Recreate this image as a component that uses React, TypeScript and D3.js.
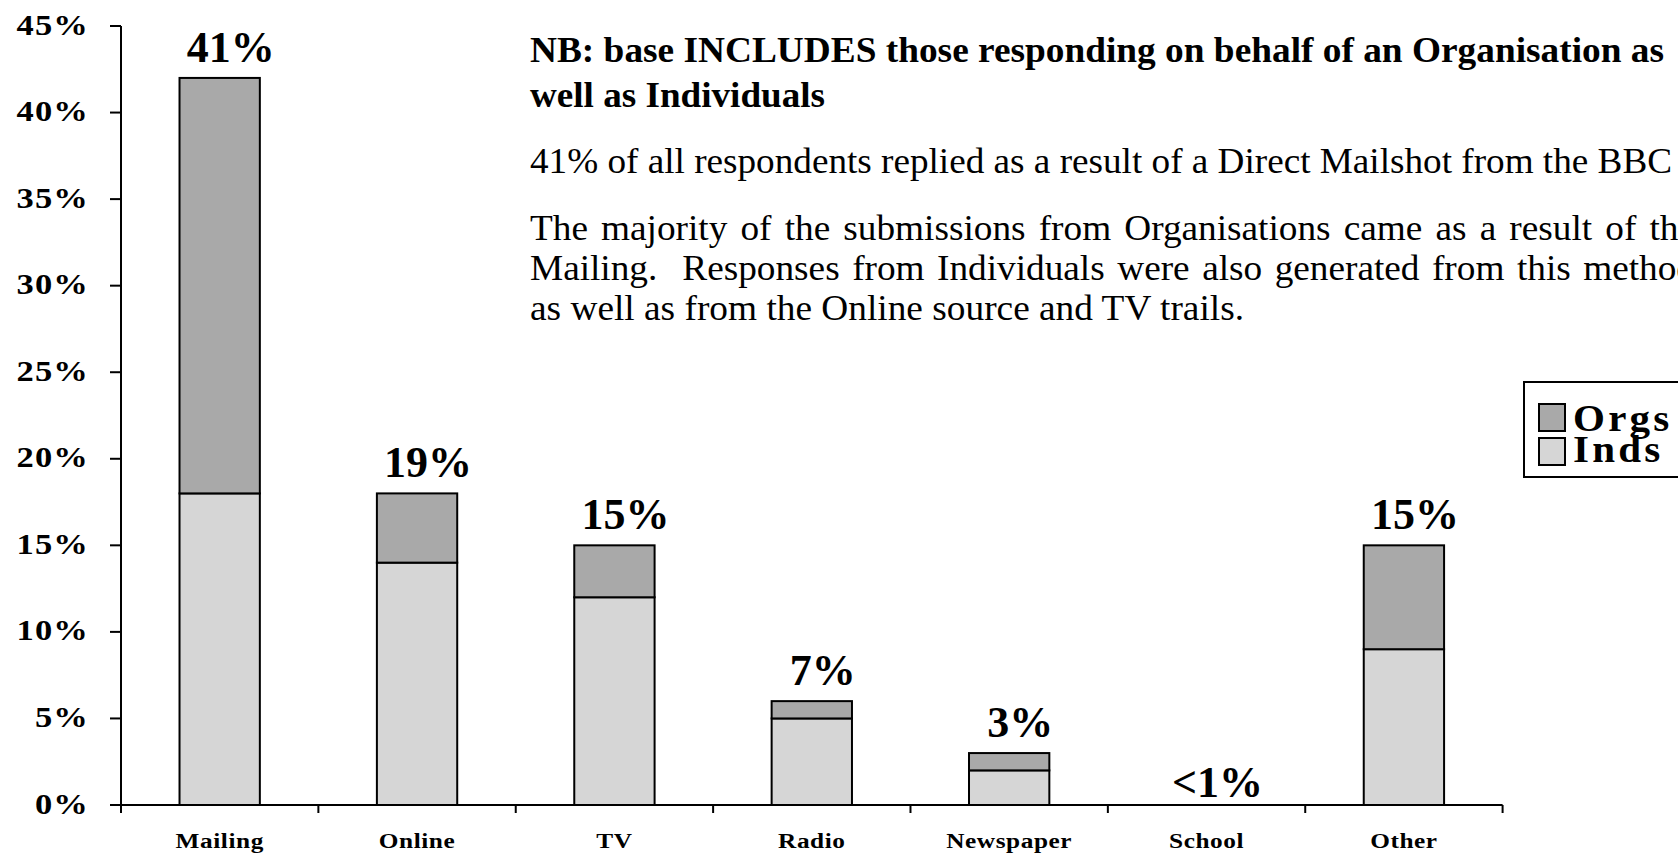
import React, { useEffect, useRef } from "react";
import * as d3 from "d3";

// ---------- data ----------
const categories = ["Mailing", "Online", "TV", "Radio", "Newspaper", "School", "Other"];
const indsValues = [18, 14, 12, 5, 2, 0, 9];
const orgsValues = [24, 4, 3, 1, 1, 0, 6];
const totalLabels = ["41%", "19%", "15%", "7%", "3%", "<1%", "15%"];
const yTicks = [0, 5, 10, 15, 20, 25, 30, 35, 40, 45];
const legendItems = ["Orgs", "Inds"];
const seriesKeys = ["inds", "orgs"];

const noteBold = [
  "NB: base INCLUDES those responding on behalf of an Organisation as",
  "well as Individuals",
];
const noteMailshot = "41% of all respondents replied as a result of a Direct Mailshot from the BBC";
const noteJustified = [
  "The majority of the submissions from Organisations came as a result of the",
  "Mailing.  Responses from Individuals were also generated from this method",
];
const noteLast = "as well as from the Online source and TV trails.";

// ---------- layout / style ----------
const W = 1678;
const H = 853;
const FONT = "'Liberation Serif', 'Times New Roman', Tinos, serif";
const AXIS_SX = 1.15;
const LEGEND_SX = 1.08;
const NOTE_SIZE = 35;
const NOTE_SX = 1.065;
const COLORS: Record<string, string> = { inds: "#d6d6d6", orgs: "#a9a9a9" };

export default function App() {
  const justRef = useRef<SVGGElement>(null);

  const x = d3
    .scaleBand<string>()
    .domain(categories)
    .range([121, 1502.6])
    .paddingInner(0.593)
    .paddingOuter(0.2965);
  const step = x.step();
  const bw = x.bandwidth();
  const y = d3.scaleLinear().domain([0, 45]).range([805, 26]);

  const rows = categories.map((c, i) => ({ cat: c, inds: indsValues[i], orgs: orgsValues[i] }));
  const stacked = d3.stack<any>().keys(seriesKeys)(rows);

  useEffect(() => {
    if (!justRef.current) return;
    d3.select(justRef.current)
      .selectAll<SVGTextElement, unknown>("text")
      .each(function () {
        const el = this as SVGTextElement;
        el.style.wordSpacing = "0px";
        const natural = el.getComputedTextLength();
        const target = +(el.getAttribute("data-target") || 0);
        const spaces = (el.textContent || "").split(" ").length - 1;
        const ws = (target / NOTE_SX - natural) / Math.max(1, spaces);
        el.style.wordSpacing = `${ws}px`;
      });
  }, []);

  const boundaries = d3.range(categories.length + 1).map((i) => 121 + i * step);

  return (
    <svg
      width={W}
      height={H}
      style={{ position: "absolute", left: 0, top: 0, display: "block", background: "#fff", fontFamily: FONT }}
    >
      <rect x={0} y={0} width={W} height={H} fill="#fff" />

      {/* bars */}
      {stacked.map((layer) => (
        <g key={layer.key}>
          {layer.map((d, i) => {
            const h = y(d[0]) - y(d[1]);
            if (h <= 0) return null;
            return (
              <rect
                key={i}
                x={x(categories[i])}
                y={y(d[1])}
                width={bw}
                height={h}
                fill={COLORS[layer.key as string]}
                stroke="#000"
                strokeWidth={2}
              />
            );
          })}
        </g>
      ))}

      {/* value labels */}
      {categories.map((c, i) => {
        const total = indsValues[i] + orgsValues[i];
        return (
          <text
            key={c}
            x={(x(c) as number) + bw / 2 + 11}
            y={y(total) - (total > 0 ? 16 : 8)}
            textAnchor="middle"
            fontSize={44}
            fontWeight="bold"
            fill="#000"
          >
            {totalLabels[i]}
          </text>
        );
      })}

      {/* y axis */}
      <line x1={121} x2={121} y1={y(45)} y2={y(0)} stroke="#000" strokeWidth={2} />
      {yTicks.map((t) => (
        <g key={t}>
          <line x1={110} x2={121} y1={y(t)} y2={y(t)} stroke="#000" strokeWidth={2} />
          <text
            transform={`translate(89,${y(t) + 8.5}) scale(${AXIS_SX},1)`}
            textAnchor="end"
            fontSize={30}
            fontWeight="bold"
            letterSpacing={1}
            fill="#000"
          >
            {t}%
          </text>
        </g>
      ))}

      {/* x axis */}
      <line x1={121} x2={boundaries[boundaries.length - 1]} y1={y(0)} y2={y(0)} stroke="#000" strokeWidth={2} />
      {boundaries.map((bx, i) => (
        <line key={i} x1={bx} x2={bx} y1={y(0)} y2={y(0) + 8} stroke="#000" strokeWidth={2} />
      ))}
      {categories.map((c) => (
        <text
          key={c}
          transform={`translate(${(x(c) as number) + bw / 2},848) scale(${AXIS_SX},1)`}
          textAnchor="middle"
          fontSize={22}
          fontWeight="bold"
          letterSpacing={0.5}
          fill="#000"
        >
          {c}
        </text>
      ))}

      {/* legend */}
      <rect x={1524} y={382} width={220} height={95} fill="#fff" stroke="#000" strokeWidth={2} />
      {legendItems.map((name, i) => (
        <g key={name}>
          <rect
            x={1539}
            y={404 + i * 34}
            width={26}
            height={27}
            fill={COLORS[name === "Orgs" ? "orgs" : "inds"]}
            stroke="#000"
            strokeWidth={2}
          />
          <text
            transform={`translate(1573,${431 + i * 31}) scale(${LEGEND_SX},1)`}
            fontSize={38}
            fontWeight="bold"
            letterSpacing={3}
            fill="#000"
          >
            {name}
          </text>
        </g>
      ))}

      {/* notes */}
      <g fill="#000" fontSize={NOTE_SIZE}>
        <text x={530} y={61.5} fontWeight="bold" textLength={1134} lengthAdjust="spacingAndGlyphs">
          {noteBold[0]}
        </text>
        <text x={530} y={107} fontWeight="bold" textLength={295} lengthAdjust="spacingAndGlyphs">
          {noteBold[1]}
        </text>
        <text x={530} y={173} textLength={1142} lengthAdjust="spacingAndGlyphs">
          {noteMailshot}
        </text>
        <g ref={justRef}>
          {noteJustified.map((line, i) => (
            <text
              key={i}
              transform={`translate(530,${240 + i * 40}) scale(${NOTE_SX},1)`}
              data-target={1165}
              style={{ whiteSpace: "pre" }}
            >
              {line}
            </text>
          ))}
        </g>
        <text x={530} y={320} textLength={714} lengthAdjust="spacingAndGlyphs">
          {noteLast}
        </text>
      </g>
    </svg>
  );
}
